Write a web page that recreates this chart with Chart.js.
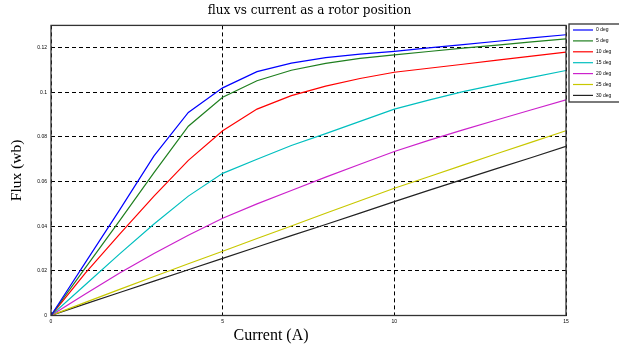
<!DOCTYPE html>
<html>
<head>
<meta charset="utf-8">
<script src="https://cdn.jsdelivr.net/npm/chart.js@4"></script>
<style>
  html, body { margin: 0; padding: 0; background: #fff; }
  #wrap { width: 619px; height: 349px; }
</style>
</head>
<body>
<div id="wrap"><canvas id="canvas"></canvas></div>
<script>
// current (A)
const current = [0, 1, 2, 3, 4, 5, 6, 7, 8, 9, 10, 11, 12, 13, 14, 15];

// flux (wb) for each rotor position
const deg0  = [0, 0.0237, 0.0473, 0.0715, 0.0910, 0.1020, 0.1093, 0.1131, 0.1156, 0.1171, 0.1184, 0.1199, 0.1214, 0.1229, 0.1244, 0.1258];
const deg5  = [0, 0.0213, 0.0425, 0.0640, 0.0848, 0.0978, 0.1052, 0.1099, 0.1130, 0.1152, 0.1168, 0.1183, 0.1198, 0.1212, 0.1226, 0.1240];
const deg10 = [0, 0.0190, 0.0365, 0.0535, 0.0695, 0.0828, 0.0925, 0.0985, 0.1028, 0.1062, 0.1090, 0.1108, 0.1126, 0.1144, 0.1162, 0.1180];
const deg15 = [0, 0.0138, 0.0276, 0.0410, 0.0535, 0.0637, 0.0700, 0.0762, 0.0815, 0.0870, 0.0925, 0.0965, 0.1003, 0.1036, 0.1067, 0.1098];
const deg20 = [0, 0.0096, 0.0190, 0.0278, 0.0360, 0.0436, 0.0500, 0.0560, 0.0620, 0.0678, 0.0735, 0.0785, 0.0832, 0.0877, 0.0922, 0.0966];
const deg25 = [0, 0.0059, 0.0117, 0.0175, 0.0232, 0.0288, 0.0345, 0.0401, 0.0458, 0.0514, 0.0570, 0.0622, 0.0674, 0.0726, 0.0777, 0.0828];
const deg30 = [0, 0.0052, 0.0103, 0.0154, 0.0205, 0.0256, 0.0307, 0.0358, 0.0408, 0.0459, 0.0510, 0.0561, 0.0610, 0.0659, 0.0708, 0.0758];

const seriesNames = ["0 deg", "5 deg", "10 deg", "15 deg", "20 deg", "25 deg", "30 deg"];
const seriesValues = [deg0, deg5, deg10, deg15, deg20, deg25, deg30];
const colors = ["#0000ff", "#1f7f1f", "#ff0000", "#00bfbf", "#cc22cc", "#c8c800", "#222222"];

const xTicks = [0, 5, 10, 15];
const yTicks = [0, 0.02, 0.04, 0.06, 0.08, 0.1, 0.12];

const datasets = seriesValues.map((vals, i) => ({
  label: seriesNames[i],
  data: vals.map((v, j) => ({ x: current[j], y: v })),
  borderColor: colors[i],
  backgroundColor: colors[i],
  borderWidth: 1.2,
  pointRadius: 0,
  tension: 0,
  fill: false,
}));

// box round the axes, x label and the boxed legend on the right
const extras = {
  id: "extras",
  afterDraw(chart) {
    const ctx = chart.ctx;
    const a = chart.chartArea;
    ctx.save();
    ctx.strokeStyle = "#333";
    ctx.lineWidth = 1.3;
    ctx.strokeRect(a.left, a.top, a.right - a.left, a.bottom - a.top);

    ctx.fillStyle = "#000";
    ctx.font = "16px 'Liberation Serif'";
    ctx.textAlign = "center";
    ctx.textBaseline = "middle";
    ctx.fillText("Current (A)", 271, 336);

    // legend
    ctx.lineWidth = 1.3;
    ctx.strokeStyle = "#333";
    ctx.strokeRect(569, 24, 60, 78);
    ctx.font = "5px 'Liberation Sans'";
    ctx.textAlign = "left";
    chart.data.datasets.forEach((ds, i) => {
      const y = 30 + i * 10.9;
      ctx.strokeStyle = ds.borderColor;
      ctx.lineWidth = 1.2;
      ctx.beginPath();
      ctx.moveTo(573, y);
      ctx.lineTo(593, y);
      ctx.stroke();
      ctx.fillStyle = "#000";
      ctx.fillText(ds.label, 596, y);
    });
    ctx.restore();
  },
};

const config = {
  type: "line",
  data: { datasets: datasets },
  options: {
    responsive: true,
    maintainAspectRatio: false,
    animation: false,
    layout: { padding: 0 },
    plugins: {
      legend: { display: false },
      tooltip: { enabled: false },
      title: {
        display: true,
        text: "flux vs current as a rotor position",
        color: "#000",
        font: { family: "'DejaVu Serif'", size: 12, weight: "normal" },
        padding: { top: 4, bottom: 7 },
      },
    },
    scales: {
      x: {
        type: "linear",
        min: 0,
        max: 15,
        afterBuildTicks: (s) => { s.ticks = xTicks.map((v) => ({ value: v })); },
        afterFit: (s) => { s.height = 33.5; },
        ticks: {
          color: "#000",
          font: { family: "'Liberation Sans'", size: 5 },
          padding: 3,
          maxRotation: 0,
        },
        grid: { color: "#000", lineWidth: 1, drawTicks: false },
        border: { display: false, dash: [4, 3] },
      },
      y: {
        type: "linear",
        min: 0,
        max: 0.13,
        afterBuildTicks: (s) => { s.ticks = yTicks.map((v) => ({ value: v })); },
        afterFit: (s) => { s.width = 51; },
        title: {
          display: true,
          text: "Flux (wb)",
          color: "#000",
          font: { family: "'Liberation Serif'", size: 15.5 },
          padding: { top: 8, bottom: 0 },
        },
        ticks: {
          color: "#000",
          font: { family: "'Liberation Sans'", size: 5 },
          padding: 4,
          callback: (v) => String(+v.toFixed(2)),
        },
        grid: { color: "#000", lineWidth: 1, drawTicks: false },
        border: { display: false, dash: [4, 3] },
      },
      // empty right axis that only reserves room for the legend
      yRight: {
        position: "right",
        min: 0,
        max: 0.13,
        afterFit: (s) => { s.width = 53; },
        ticks: { display: false },
        grid: { display: false },
        border: { display: false },
      },
    },
  },
  plugins: [extras],
};

const canvas = document.getElementById("canvas");
const chart = new Chart(canvas, config);
</script>
</body>
</html>
